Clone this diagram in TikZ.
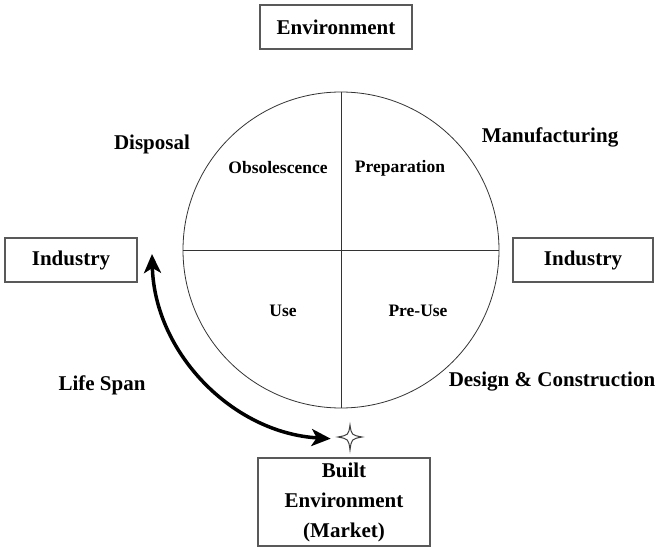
\documentclass[tikz,border=0pt]{standalone}
\usepackage{fontspec}
\setmainfont{Liberation Serif}
\usetikzlibrary{arrows.meta,calc}
\tikzset{
  boxnode/.style={draw=black!65, line width=1.3pt, inner sep=0pt, font=\fontsize{21}{30}\selectfont\bfseries, align=center},
  outerlbl/.style={font=\fontsize{21}{25}\selectfont\bfseries, inner sep=0pt},
  innerlbl/.style={font=\fontsize{17.5}{21}\selectfont\bfseries, inner sep=0pt},
  thinline/.style={draw=black!80, line width=0.8pt},
  bighead/.tip={Stealth[length=19pt,width=17pt,inset=5pt]}
}
\begin{document}
\begin{tikzpicture}[x=1pt,y=-1pt]
\useasboundingbox (0,0) rectangle (656,548);
% boxes
\node[boxnode, minimum width=152pt, minimum height=44pt] (env) at (336,27) {Environment};
\node[boxnode, minimum width=132pt, minimum height=44pt] (indl) at (71,260) {Industry};
\node[boxnode, minimum width=140pt, minimum height=44pt] (indr) at (583,260) {Industry};
\node[boxnode, minimum width=172pt, minimum height=88pt] (built) at (344,502) {Built\\Environment\\(Market)};
% circle
\node[thinline, circle, minimum size=316pt, inner sep=0pt] (c) at (341,250) {};
\draw[thinline] (c.north) -- (c.south);
\draw[thinline] (c.west) -- (c.east);
% inner labels
\node[innerlbl] (obs) at (278,168) {Obsolescence};
\node[innerlbl] (prep) at (400,168) {Preparation};
\node[innerlbl] (use) at (283,311) {Use};
\node[innerlbl] (preuse) at (418,311) {Pre-Use};
% outer labels
\node[outerlbl] (disp) at (152,144) {Disposal};
\node[outerlbl] (manu) at (550,137) {Manufacturing};
\node[outerlbl] (life) at (102,385) {Life Span};
\node[outerlbl] (design) at (552,382) {Design \& Construction};
% star
\coordinate (star) at (350,437);
\draw[black!75, line width=1pt, fill=white]
  ($(star)+(0,-12)$) .. controls ($(star)+(1.5,-2)$) .. ($(star)+(12,0)$)
  .. controls ($(star)+(1.5,2)$) .. ($(star)+(0,13)$)
  .. controls ($(star)+(-1.5,2)$) .. ($(star)+(-12,0)$)
  .. controls ($(star)+(-1.5,-2)$) .. cycle;
% life span arrow
\coordinate (ltip) at (152,254);
\draw[line width=3.5pt, bighead-bighead]
  (ltip) arc[start angle=178.5, end angle=93.4, radius=190];
\end{tikzpicture}
\end{document}
